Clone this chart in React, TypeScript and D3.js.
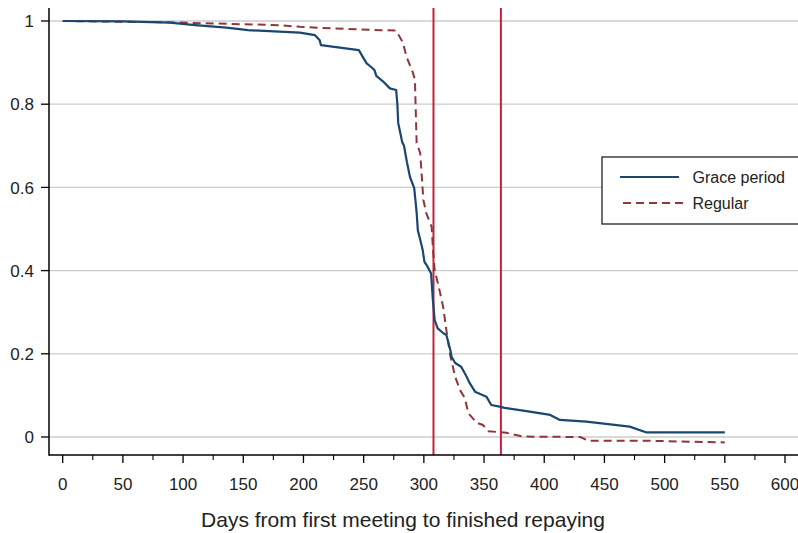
import React from "react";
import * as d3 from "d3";

const graceDays = [0, 50, 89, 110, 136, 154, 197, 209.6, 213.5, 214.5, 246, 249, 252.5, 256, 259, 260.5, 266, 271.8, 277, 278, 278.7, 282, 283.5, 286, 288.5, 292, 294, 295, 297, 299, 300.5, 303, 306, 307.5, 309, 311.5, 316, 318.7, 322, 323, 326, 331, 335.6, 338, 342.5, 352, 356, 363, 367, 388, 405, 413, 435, 471, 485, 550];
const graceVals = [1.0, 0.999, 0.996, 0.99, 0.984, 0.978, 0.972, 0.966, 0.954, 0.942, 0.93, 0.915, 0.898, 0.89, 0.882, 0.868, 0.855, 0.838, 0.834, 0.8, 0.755, 0.709, 0.7, 0.66, 0.625, 0.598, 0.54, 0.497, 0.474, 0.45, 0.421, 0.41, 0.393, 0.329, 0.281, 0.261, 0.25, 0.245, 0.209, 0.193, 0.178, 0.169, 0.145, 0.13, 0.109, 0.097, 0.077, 0.073, 0.07, 0.061, 0.053, 0.041, 0.037, 0.025, 0.011, 0.011];

const regularDays = [0, 86, 140, 180.5, 197, 225, 264, 277, 282.6, 285.6, 291, 292.6, 294, 297, 299.6, 302, 306.5, 307.6, 309, 313, 316, 318.7, 322, 326, 330, 334, 337, 344, 349, 353.6, 368.6, 382.6, 430, 436.6, 485, 550];
const regularVals = [1.0, 0.997, 0.993, 0.99, 0.986, 0.982, 0.978, 0.977, 0.948, 0.914, 0.875, 0.858, 0.707, 0.682, 0.57, 0.538, 0.505, 0.45, 0.401, 0.353, 0.313, 0.257, 0.195, 0.145, 0.113, 0.094, 0.057, 0.034, 0.029, 0.014, 0.01, 0.001, 0.0, -0.009, -0.009, -0.013];

const refLines = [308, 364];
const xTicks = [0, 50, 100, 150, 200, 250, 300, 350, 400, 450, 500, 550, 600];
const xMinorTicks = [25, 75, 125, 175, 225, 275, 325, 375, 425, 475, 525, 575];
const yTicks = [0, 0.2, 0.4, 0.6, 0.8, 1];
const yTickLabels = ["0", "0.2", "0.4", "0.6", "0.8", "1"];
const seriesNames = ["Grace period", "Regular"];
const xTitle = "Days from first meeting to finished repaying";

const W = 798;
const H = 533;
const FONT = "'Liberation Sans', Arial, Helvetica, sans-serif";
const BLUE = "#1a476f";
const MAROON = "#90353b";
const RED = "#c8203a";

export default function App() {
  const x = d3.scaleLinear().domain([0, 600]).range([62.7, 785]);
  const y = d3.scaleLinear().domain([0, 1]).range([437, 21]);
  const left = 49;
  const bottom = 455;
  const top = 8;

  const line = d3
    .line<[number, number]>()
    .x((d) => x(d[0]))
    .y((d) => y(d[1]));

  const grace: [number, number][] = graceDays.map((d, i) => [d, graceVals[i]]);
  const regular: [number, number][] = regularDays.map((d, i) => [d, regularVals[i]]);

  return (
    <svg
      width={W}
      height={H}
      style={{ position: "absolute", left: 0, top: 0, background: "#fff" }}
      fontFamily={FONT}
    >
      <rect x={0} y={0} width={W} height={H} fill="#fff" />
      {/* grid */}
      {yTicks.map((t) => (
        <line key={"g" + t} x1={left} x2={W} y1={y(t)} y2={y(t)} stroke="#cccccc" strokeWidth={1.3} />
      ))}
      {/* reference lines */}
      {refLines.map((r) => (
        <line key={"r" + r} x1={x(r)} x2={x(r)} y1={top} y2={bottom} stroke={RED} strokeWidth={2} />
      ))}
      {/* curves */}
      <path d={line(regular) || ""} fill="none" stroke={MAROON} strokeWidth={2} strokeDasharray="8,5" />
      <path d={line(grace) || ""} fill="none" stroke={BLUE} strokeWidth={2.2} strokeLinejoin="round" />
      {/* axes */}
      <line x1={left} x2={left} y1={top} y2={bottom + 0.75} stroke="#000" strokeWidth={1.5} />
      <line x1={left} x2={W} y1={bottom} y2={bottom} stroke="#000" strokeWidth={1.5} />
      {yTicks.map((t, i) => (
        <g key={"yt" + t}>
          <line x1={left - 8} x2={left} y1={y(t)} y2={y(t)} stroke="#000" strokeWidth={1.3} />
          <text x={34} y={y(t)} dy="0.36em" textAnchor="end" fontSize={17} fill="#222">
            {yTickLabels[i]}
          </text>
        </g>
      ))}
      {xTicks.map((t) => (
        <g key={"xt" + t}>
          <line x1={x(t)} x2={x(t)} y1={bottom} y2={bottom + 8} stroke="#000" strokeWidth={1.3} />
          <text x={x(t)} y={490} textAnchor="middle" fontSize={17} fill="#222">
            {t}
          </text>
        </g>
      ))}
      {xMinorTicks.map((t) => (
        <line key={"xm" + t} x1={x(t)} x2={x(t)} y1={bottom} y2={bottom + 5} stroke="#000" strokeWidth={1.1} />
      ))}
      <text x={(199 + 607) / 2} y={527} textAnchor="middle" fontSize={21} fill="#222">
        {xTitle}
      </text>
      {/* legend */}
      <rect x={602} y={157} width={W - 602 + 4} height={67} fill="#fff" stroke="#222" strokeWidth={1.3} />
      <line x1={620} x2={679} y1={177} y2={177} stroke={BLUE} strokeWidth={2.2} />
      <line x1={623} x2={683} y1={203} y2={203} stroke={MAROON} strokeWidth={2} strokeDasharray="8,5" />
      <text x={692.5} y={177} dy="0.36em" fontSize={16} fill="#222">
        {seriesNames[0]}
      </text>
      <text x={692.5} y={203} dy="0.36em" fontSize={16} fill="#222">
        {seriesNames[1]}
      </text>
    </svg>
  );
}
